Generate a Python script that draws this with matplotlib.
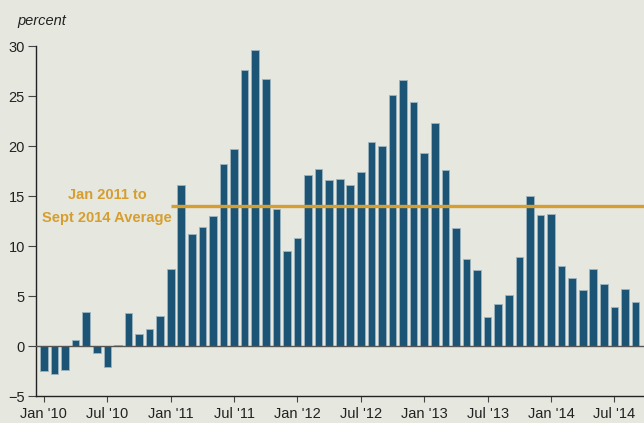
import matplotlib
matplotlib.use("Agg")
import matplotlib.pyplot as plt
import numpy as np

plt.rcParams['font.family'] = ['Liberation Sans', 'DejaVu Sans']

values = [
    -2.5, -2.8, -2.4, 0.6, 3.4, -0.7, -2.1, 0.1, 3.3, 1.2, 1.7, 3.0,          # 2010
    7.7, 16.1, 11.2, 11.9, 13.0, 18.2, 19.7, 27.6, 29.6, 26.7, 13.7, 9.5,     # 2011
    10.8, 17.1, 17.7, 16.6, 16.7, 16.1, 17.4, 20.4, 20.0, 25.1, 26.6, 24.4,   # 2012
    19.3, 22.3, 17.6, 11.8, 8.7, 7.6, 2.9, 4.2, 5.1, 8.9, 15.0, 13.1,        # 2013
    13.2, 8.0, 6.8, 5.6, 7.7, 6.2, 3.9, 5.7, 4.4,                            # 2014
]
tick_labels = ["Jan '10", "Jul '10", "Jan '11", "Jul '11", "Jan '12",
               "Jul '12", "Jan '13", "Jul '13", "Jan '14", "Jul '14"]
avg_value = 14.0
avg_start = 12  # Jan 2011 index
avg_label = "Jan 2011 to\nSept 2014 Average"

bg = '#E6E7DF'
bar_color = '#1B5474'
edge_color = '#9DB3C0'
orange = '#D69E2E'

fig = plt.figure(figsize=(6.44, 4.23), dpi=100, facecolor=bg)
ax = fig.add_axes([36/644, 1-396/423, 1-36/644, (396-46)/423], facecolor=bg)

x = np.arange(len(values))
ax.bar(x, values, width=0.72, color=bar_color, edgecolor=edge_color, linewidth=0.6, zorder=2)
ax.axhline(0, color='#555555', linewidth=1.0, zorder=3)
ax.plot([avg_start, len(values) + 1], [avg_value, avg_value], color=orange, linewidth=2.4, zorder=4,
        solid_capstyle='butt')

ax.set_xlim(-0.75, 56.8)
ax.set_ylim(-5, 30)
ax.set_yticks(np.arange(-5, 31, 5))
ax.set_xticks(np.arange(0, len(values), 6))
ax.set_xticklabels(tick_labels)

for s in ['top', 'right']:
    ax.spines[s].set_visible(False)
ax.spines['left'].set_color('#222222')
ax.spines['bottom'].set_color('#222222')
ax.spines['left'].set_linewidth(1.0)
ax.spines['bottom'].set_linewidth(1.0)
ax.tick_params(axis='y', direction='out', length=6, width=0.8, color='#444444',
               labelsize=10.5, labelcolor='#222222', pad=2)
ax.tick_params(axis='x', direction='out', length=4, width=0.8, color='#444444',
               labelsize=10.5, labelcolor='#222222', pad=4)

ax.text(6, 13.95, avg_label, ha='center', va='center', color=orange, fontsize=10.5,
        fontweight='bold', linespacing=1.75, zorder=5)

fig.text(17/644, 1-21/423, 'percent', fontsize=10.5, style='italic', color='#222222',
         ha='left', va='center')

fig.savefig('out.png', dpi=100, facecolor=bg)
